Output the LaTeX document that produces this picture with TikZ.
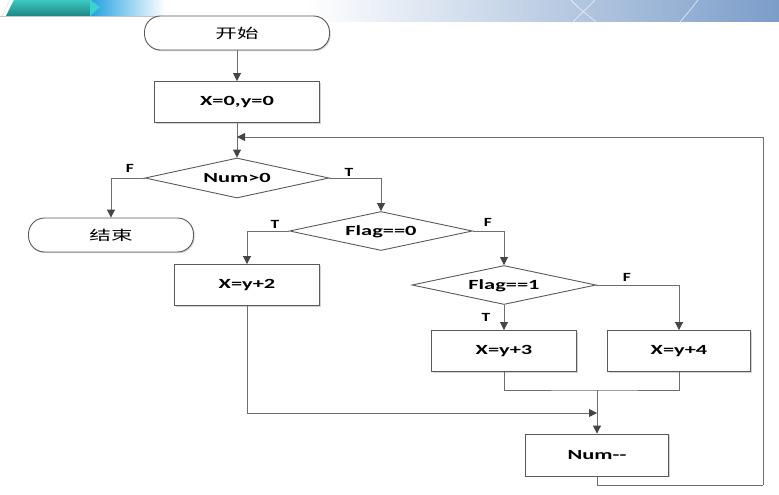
\documentclass[tikz,border=0pt]{standalone}
\usepackage{fontspec}
\setmainfont{Carlito}
\newfontfamily\cjk{Noto Sans CJK SC}
\usetikzlibrary{shapes.geometric,arrows.meta,shadows}
\definecolor{linegray}{HTML}{6E6E6E}
\definecolor{tipgray}{HTML}{454545}
\definecolor{boxgray}{HTML}{5A5A5A}
\definecolor{tealA}{HTML}{3CC9C2}
\definecolor{tealB}{HTML}{1E8582}
\definecolor{cyanA}{HTML}{3AD2D0}
\definecolor{blueA}{HTML}{1B9FE0}
\definecolor{steel}{HTML}{7B9DC9}
% horizontally widened text
\newcommand\wtxt[1]{\scalebox{1.6}[1]{#1}}
\newcommand\ztxt[1]{\scalebox{1.6}[1]{\cjk #1}}
\newcommand\ltxt[1]{\scalebox{1.4}[1]{#1}}
% text that does not enlarge its shape, centred on the node
\newcommand\ctxt[1]{\smash{\makebox[0pt]{\raisebox{-4.5pt}{\wtxt{#1}}}}}
\tikzset{
  conn/.style={draw=linegray, line width=0.9pt},
  arr/.style={conn, -{Triangle[length=8pt,width=8pt,color=tipgray]}},
  shad/.style={drop shadow={shadow xshift=1.2pt,shadow yshift=-1.2pt,opacity=.35,fill=gray}},
  procbox/.style={rectangle, draw=boxgray, line width=0.9pt, fill=white, inner sep=0pt,
    font=\bfseries\fontsize{14}{16}\selectfont, shad},
  termbox/.style={procbox, rounded corners=16pt, font=\fontsize{13.5}{15}\selectfont},
  decbox/.style={diamond, draw=boxgray, line width=0.9pt, fill=white, inner sep=0pt,
    font=\bfseries\fontsize{14}{16}\selectfont},
  lab/.style={inner sep=0pt, font=\bfseries\fontsize{12.5}{13}\selectfont}
}
\begin{document}
\begin{tikzpicture}[x=1pt,y=-1pt]
\useasboundingbox (0,0) rectangle (779,495);
\fill[white] (0,0) rectangle (779,495);

% header band, left
\shade[left color=blueA, right color=white] (88,0) rectangle (165,16);
\shade[top color=tealA, bottom color=tealB] (6,16) -- (14,0) -- (92,0) -- (90,16) -- cycle;
\fill[cyanA] (90,0) -- (100,7) -- (90,16) -- cycle;
\draw[white!80!gray, line width=0.6pt] (1.5,16.5) -- (10,0);
\draw[gray!45, line width=0.7pt] (0,16.5) -- (208,16.5);
% header band, right
\shade[left color=white, right color=steel] (305,0) rectangle (779,22);
\begin{scope}[white, line width=0.6pt, opacity=.8]
  \draw (571,0) .. controls (578,8) and (588,15) .. (596,22);
  \draw (595,0) .. controls (588,8) and (579,15) .. (573,22);
  \draw (698,0) .. controls (692,8) and (686,15) .. (680,22);
\end{scope}

% nodes
\node[termbox, minimum width=185pt, minimum height=34pt] (start) at (237,33) {\ztxt{开始}};
\node[procbox, minimum width=165pt, minimum height=41pt] (init) at (237,102) {\wtxt{X=0,y=0}};
\node[decbox, minimum width=184pt, minimum height=40pt] (d1) at (237,178) {\ctxt{Num>0}};
\node[termbox, minimum width=165pt, minimum height=34pt] (stop) at (111,235) {\ztxt{结束}};
\node[decbox, minimum width=183pt, minimum height=39pt] (d2) at (381,231) {\ctxt{Flag==0}};
\node[procbox, minimum width=145pt, minimum height=41pt] (b2) at (247,285) {\wtxt{X=y+2}};
\node[decbox, minimum width=184pt, minimum height=39pt] (d3) at (504,285) {\ctxt{Flag==1}};
\node[procbox, minimum width=145pt, minimum height=41pt] (b3) at (504,351) {\wtxt{X=y+3}};
\node[procbox, minimum width=143pt, minimum height=41pt] (b4) at (679,351) {\wtxt{X=y+4}};
\node[procbox, minimum width=143pt, minimum height=42pt] (num) at (597,455) {\wtxt{Num-{}-}};

% helper points
\coordinate (mg) at (597,390);
\coordinate (mj) at (597,413);
\coordinate (rb) at (763,485);
\coordinate (jn) at (237,137);

% connectors
\draw[arr] (start) -- (init);
\draw[arr] (init) -- (d1);
\draw[arr] (d1.west) -| (stop.north);
\draw[arr] (d1.east) -| (d2.north);
\draw[arr] (d2.west) -| (b2.north);
\draw[arr] (d2.east) -| (d3.north);
\draw[arr] (d3.south) -- (b3.north);
\draw[arr] (d3.east) -| (b4.north);
\draw[conn] (b3.south) |- (mg) -| (b4.south);
\draw[arr] (mg) -- (num.north);
\draw[arr] (b2.south) |- (mj);
\draw[conn] (num.south) |- (rb);
\draw[arr] (rb) |- (jn);

% branch labels
\node[lab] (f1) at (130,168) {\ltxt{F}};
\node[lab] (t1) at (349,172) {\ltxt{T}};
\node[lab] (t2) at (275,224) {\ltxt{T}};
\node[lab] (f2) at (488,222) {\ltxt{F}};
\node[lab] (t3) at (486,317) {\ltxt{T}};
\node[lab] (f3) at (627,277) {\ltxt{F}};
\end{tikzpicture}
\end{document}
